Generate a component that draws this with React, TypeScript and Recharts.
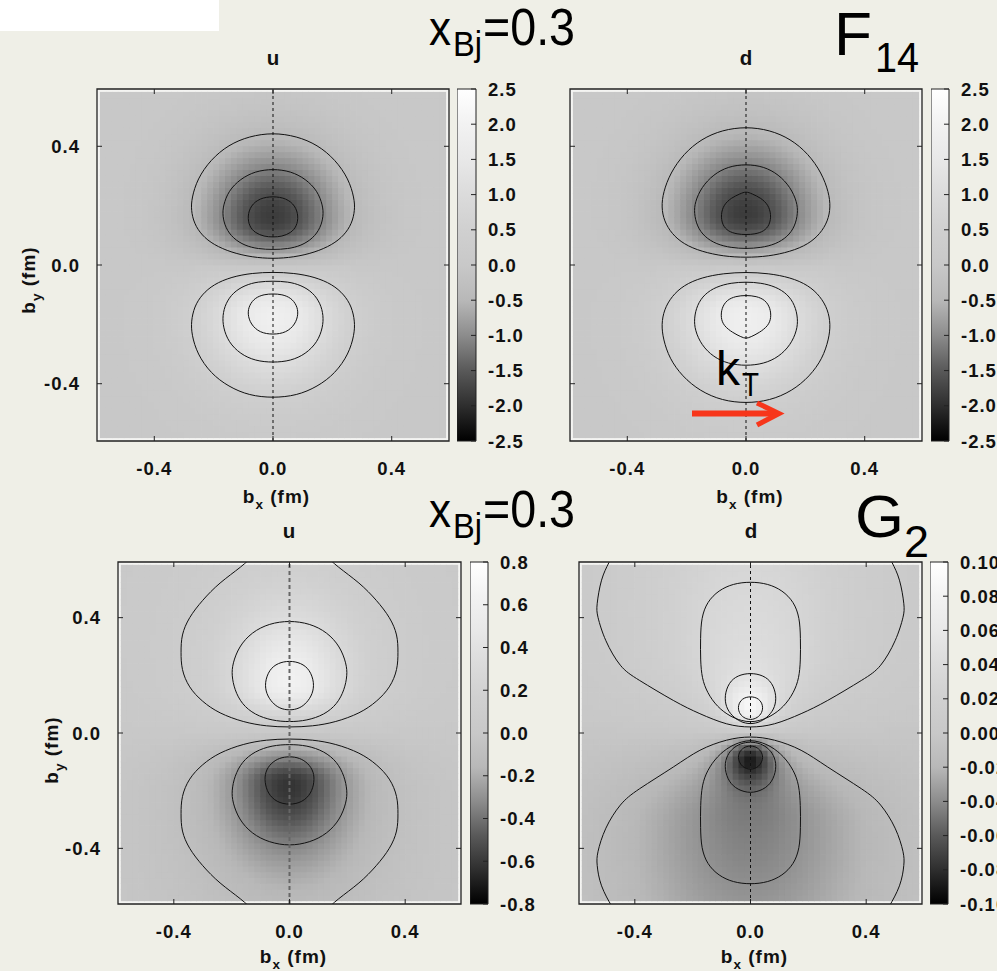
import React from 'react';
import { ComposedChart, XAxis, YAxis, Scatter, Line, ReferenceLine, ReferenceArea } from 'recharts';

const FONT = '"Liberation Sans", Arial, Helvetica, sans-serif';

// ---------- data ----------
const axisTicks = [-0.4, 0, 0.4];
const AX = 0.593; // axis half range (fm)

const cbTicksF14 = [2.5, 2.0, 1.5, 1.0, 0.5, 0.0, -0.5, -1.0, -1.5, -2.0, -2.5];
const cbTicksG2u = [0.8, 0.6, 0.4, 0.2, 0.0, -0.2, -0.4, -0.6, -0.8];
const cbTicksG2d = [0.1, 0.08, 0.06, 0.04, 0.02, 0.0, -0.02, -0.04, -0.06, -0.08, -0.1];

// palette: normalised value -> gray level
const paletteStops = [
  [0, 0], [0.1, 0.18], [0.2, 0.35], [0.3, 0.55], [0.4, 0.72], [0.5, 0.785],
  [0.6, 0.815], [0.7, 0.86], [0.8, 0.91], [0.9, 0.95], [1, 1],
];

// blobs: centre, peak, widths, tail exponent
const blobsF14u = [
  { x: 0, y: 0.16, amp: -1.85, sx: 0.16, sUp: 0.16, sDown: 0.1, k: 20 },
  { x: 0, y: -0.17, amp: 1.85, sx: 0.16, sUp: 0.1, sDown: 0.16, k: 20 },
];
const blobsF14d = [
  { x: 0, y: 0.17, amp: -1.85, sx: 0.165, sUp: 0.165, sDown: 0.1, k: 20 },
  { x: 0, y: -0.175, amp: 1.85, sx: 0.165, sUp: 0.1, sDown: 0.165, k: 20 },
];
const blobsG2u = [
  { x: 0, y: 0.17, amp: 0.65, sx: 0.14, sUp: 0.18, sDown: 0.08, k: 1.5 },
  { x: 0, y: -0.17, amp: -0.65, sx: 0.14, sUp: 0.08, sDown: 0.18, k: 1.5 },
];
const blobsG2d = [
  { x: 0, y: 0.085, amp: 0.085, sx: 0.06, sUp: 0.06, sDown: 0.06, k: 1.5 },
  { x: 0, y: 0.3, amp: 0.04, sx: 0.24, sUp: 0.4, sDown: 0.2, k: 2 },
  { x: 0, y: -0.085, amp: -0.085, sx: 0.06, sUp: 0.06, sDown: 0.06, k: 1.5 },
  { x: 0, y: -0.32, amp: -0.045, sx: 0.3, sUp: 0.2, sDown: 0.4, k: 2 },
];

// contour lines (right half, x >= 0), mirrored about bx = 0
const contoursF14u = [
  { open: false, pts: [[0, 0.446], [0.08, 0.434], [0.15, 0.405], [0.21, 0.355], [0.255, 0.29], [0.274, 0.225], [0.276, 0.185], [0.266, 0.14], [0.24, 0.1], [0.2, 0.068], [0.14, 0.042], [0.07, 0.026], [0, 0.021]] },
  { open: false, pts: [[0, 0.324], [0.06, 0.316], [0.11, 0.29], [0.15, 0.25], [0.168, 0.2], [0.17, 0.165], [0.16, 0.125], [0.135, 0.09], [0.095, 0.065], [0.05, 0.054], [0, 0.052]] },
  { open: false, pts: [[0, 0.232], [0.045, 0.225], [0.075, 0.2], [0.086, 0.165], [0.08, 0.13], [0.06, 0.108], [0.03, 0.096], [0, 0.094]] },
  { open: false, pts: [[0, -0.024], [0.07, -0.027], [0.14, -0.04], [0.2, -0.065], [0.24, -0.1], [0.265, -0.14], [0.276, -0.19], [0.274, -0.235], [0.255, -0.3], [0.21, -0.365], [0.15, -0.41], [0.08, -0.44], [0, -0.448]] },
  { open: false, pts: [[0, -0.054], [0.05, -0.056], [0.095, -0.068], [0.135, -0.093], [0.16, -0.13], [0.17, -0.17], [0.168, -0.21], [0.15, -0.26], [0.11, -0.3], [0.06, -0.323], [0, -0.329]] },
  { open: false, pts: [[0, -0.097], [0.03, -0.099], [0.06, -0.11], [0.08, -0.135], [0.086, -0.165], [0.075, -0.2], [0.045, -0.228], [0, -0.235]] },
];
const contoursF14d = [
  { open: false, pts: [[0, 0.466], [0.08, 0.455], [0.15, 0.425], [0.21, 0.375], [0.255, 0.31], [0.279, 0.245], [0.285, 0.195], [0.276, 0.148], [0.25, 0.105], [0.21, 0.07], [0.15, 0.045], [0.075, 0.029], [0, 0.025]] },
  { open: false, pts: [[0, 0.34], [0.06, 0.332], [0.11, 0.305], [0.15, 0.262], [0.172, 0.212], [0.175, 0.175], [0.165, 0.13], [0.14, 0.095], [0.1, 0.07], [0.05, 0.058], [0, 0.055]] },
  { open: false, pts: [[0, 0.248], [0.02, 0.24], [0.05, 0.226], [0.075, 0.203], [0.085, 0.17], [0.08, 0.135], [0.06, 0.113], [0.03, 0.104], [0, 0.102]] },
  { open: false, pts: [[0, -0.024], [0.075, -0.028], [0.15, -0.042], [0.21, -0.068], [0.25, -0.105], [0.276, -0.15], [0.285, -0.2], [0.279, -0.25], [0.258, -0.315], [0.215, -0.375], [0.155, -0.425], [0.08, -0.457], [0, -0.466]] },
  { open: false, pts: [[0, -0.057], [0.05, -0.06], [0.1, -0.073], [0.14, -0.098], [0.165, -0.135], [0.175, -0.18], [0.172, -0.22], [0.15, -0.27], [0.11, -0.31], [0.06, -0.333], [0, -0.34]] },
  { open: false, pts: [[0, -0.102], [0.035, -0.105], [0.065, -0.118], [0.082, -0.145], [0.085, -0.178], [0.075, -0.205], [0.045, -0.228], [0.015, -0.243], [0, -0.248]] },
];
const contoursG2u = [
  { open: true, pts: [[0, 0.021], [0.08, 0.025], [0.16, 0.04], [0.24, 0.07], [0.3, 0.11], [0.345, 0.16], [0.37, 0.22], [0.375, 0.28], [0.37, 0.34], [0.345, 0.4], [0.3, 0.46], [0.24, 0.52], [0.17, 0.575], [0.12, 0.62]] },
  { open: false, pts: [[0, 0.39], [0.07, 0.38], [0.13, 0.35], [0.175, 0.3], [0.197, 0.24], [0.2, 0.2], [0.19, 0.15], [0.165, 0.1], [0.12, 0.063], [0.06, 0.043], [0, 0.038]] },
  { open: false, pts: [[0, 0.251], [0.04, 0.243], [0.07, 0.22], [0.086, 0.175], [0.08, 0.135], [0.06, 0.105], [0.035, 0.085], [0, 0.078]] },
  { open: true, pts: [[0, -0.021], [0.08, -0.025], [0.16, -0.04], [0.24, -0.07], [0.3, -0.11], [0.345, -0.16], [0.37, -0.22], [0.375, -0.28], [0.37, -0.34], [0.345, -0.4], [0.3, -0.46], [0.24, -0.52], [0.17, -0.575], [0.12, -0.62]] },
  { open: false, pts: [[0, -0.039], [0.06, -0.043], [0.12, -0.063], [0.165, -0.1], [0.19, -0.15], [0.2, -0.2], [0.197, -0.24], [0.175, -0.3], [0.13, -0.35], [0.07, -0.38], [0, -0.392]] },
  { open: false, pts: [[0, -0.081], [0.035, -0.086], [0.065, -0.105], [0.084, -0.135], [0.086, -0.17], [0.075, -0.21], [0.045, -0.24], [0, -0.25]] },
];
const contoursG2d = [
  { open: true, pts: [[0, 0.021], [0.083, 0.032], [0.175, 0.067], [0.267, 0.113], [0.383, 0.182], [0.45, 0.235], [0.5, 0.32], [0.527, 0.4], [0.53, 0.45], [0.515, 0.53], [0.49, 0.59], [0.47, 0.63]] },
  { open: false, pts: [[0, 0.525], [0.06, 0.518], [0.11, 0.495], [0.15, 0.455], [0.17, 0.4], [0.173, 0.33], [0.173, 0.25], [0.168, 0.19], [0.15, 0.14], [0.115, 0.09], [0.07, 0.057], [0.03, 0.042], [0, 0.038]] },
  { open: false, pts: [[0, 0.209], [0.045, 0.2], [0.075, 0.175], [0.09, 0.13], [0.085, 0.09], [0.065, 0.06], [0.035, 0.038], [0, 0.03]] },
  { open: false, pts: [[0, 0.128], [0.03, 0.12], [0.044, 0.095], [0.04, 0.07], [0.025, 0.053], [0, 0.044]] },
  { open: true, pts: [[0, -0.014], [0.083, -0.025], [0.175, -0.06], [0.267, -0.118], [0.383, -0.193], [0.45, -0.25], [0.5, -0.33], [0.527, -0.41], [0.53, -0.46], [0.515, -0.53], [0.48, -0.6], [0.46, -0.63]] },
  { open: false, pts: [[0, -0.025], [0.03, -0.03], [0.07, -0.045], [0.115, -0.08], [0.15, -0.13], [0.168, -0.18], [0.173, -0.25], [0.173, -0.33], [0.17, -0.4], [0.15, -0.455], [0.11, -0.495], [0.06, -0.518], [0, -0.525]] },
  { open: false, pts: [[0, -0.03], [0.035, -0.036], [0.065, -0.055], [0.085, -0.085], [0.09, -0.125], [0.075, -0.17], [0.045, -0.197], [0, -0.21]] },
  { open: false, pts: [[0, -0.043], [0.025, -0.05], [0.04, -0.068], [0.044, -0.09], [0.03, -0.118], [0, -0.129]] },
];

// ---------- layout ----------
const panels = [
  { id: 'tl', L: 97, T: 89, W: 352, H: 352, blobs: blobsF14u, contours: contoursF14u, range: [-2.5, 2.5], cbTicks: cbTicksF14, cbL: 457, cbW: 19, dec: 1, showY: true, dash: { stroke: '#111', w: 1, arr: '3 3' } },
  { id: 'tr', L: 570, T: 89, W: 352, H: 352, blobs: blobsF14d, contours: contoursF14d, range: [-2.5, 2.5], cbTicks: cbTicksF14, cbL: 931, cbW: 18, dec: 1, showY: false, dash: { stroke: '#111', w: 1, arr: '3 3' } },
  { id: 'bl', L: 118, T: 562, W: 343, H: 342, blobs: blobsG2u, contours: contoursG2u, range: [-0.8, 0.8], cbTicks: cbTicksG2u, cbL: 470, cbW: 18, dec: 1, showY: true, dash: { stroke: '#666', w: 2, arr: '4 3' } },
  { id: 'br', L: 579, T: 562, W: 343, H: 342, blobs: blobsG2d, contours: contoursG2d, range: [-0.1, 0.1], cbTicks: cbTicksG2d, cbL: 930, cbW: 18, dec: 2, showY: false, dash: { stroke: '#111', w: 1, arr: '3 3' } },
];

const HE = 0.582;
const NCELL = 58;
const STEP = (2 * HE) / NCELL;

function paletteGray(v: number) {
  const t = Math.max(0, Math.min(1, v));
  for (let i = 1; i < paletteStops.length; i++) {
    const [a, ga] = paletteStops[i - 1];
    const [b, gb] = paletteStops[i];
    if (t <= b) return ga + ((t - a) / (b - a)) * (gb - ga);
  }
  return 1;
}
function grayHex(g: number) {
  const c = Math.round(g * 255);
  return `rgb(${c},${c},${c})`;
}
function fieldAt(blobs: any[], x: number, y: number) {
  let s = 0;
  for (const b of blobs) {
    const dx = (x - b.x) / b.sx;
    const dy = (y - b.y) / (y >= b.y ? b.sUp : b.sDown);
    const q = dx * dx + dy * dy;
    s += b.amp * Math.pow(1 + q / (2 * b.k), -b.k);
  }
  return s;
}
function buildCells(blobs: any[], range: number[]) {
  const out: any[] = [];
  for (let i = 0; i < NCELL; i++) {
    for (let j = 0; j < NCELL; j++) {
      const x = -HE + (i + 0.5) * STEP;
      const y = -HE + (j + 0.5) * STEP;
      const v = fieldAt(blobs, x, y);
      const t = (v - range[0]) / (range[1] - range[0]);
      out.push({ x, y, c: grayHex(paletteGray(t)) });
    }
  }
  return out;
}
function closeSym(r: number[][]) {
  const left = r.slice(1, -1).reverse().map(([x, y]) => [-x, y]);
  return [...r, ...left].map(([x, y]) => ({ x, y }));
}
function openSym(r: number[][]) {
  const left = r.slice(1).reverse().map(([x, y]) => [-x, y]);
  return [...left, ...r].map(([x, y]) => ({ x, y }));
}

const boldText: any = { fontFamily: FONT, fontWeight: 700, fontSize: 18.5, fill: '#111', letterSpacing: 1 };

const makeXTick = (plotH: number) => (props: any) => {
  const { x, y, payload } = props;
  return (
    <g>
      <line x1={x} x2={x} y1={y} y2={y - 5} stroke="#222" strokeWidth={1} />
      <line x1={x} x2={x} y1={y - plotH} y2={y - plotH + 5} stroke="#222" strokeWidth={1} />
      <text x={x} y={y + 34} textAnchor="middle" style={boldText}>{Number(payload.value).toFixed(1)}</text>
    </g>
  );
};
const makeYTick = (plotW: number, show: boolean) => (props: any) => {
  const { x, y, payload } = props;
  return (
    <g>
      <line x1={x} x2={x + 5} y1={y} y2={y} stroke="#222" strokeWidth={1} />
      <line x1={x + plotW} x2={x + plotW - 5} y1={y} y2={y} stroke="#222" strokeWidth={1} />
      {show ? (
        <text x={x - 17} y={y + 6.5} textAnchor="end" style={boldText}>{Number(payload.value).toFixed(1)}</text>
      ) : null}
    </g>
  );
};
const makeCbTick = (dec: number) => (props: any) => {
  const { x, y, payload } = props;
  return (
    <g>
      <line x1={x} x2={x - 5} y1={y} y2={y} stroke="#222" strokeWidth={1} />
      <text x={x + 12} y={y + 6.5} textAnchor="start" style={boldText}>{Number(payload.value).toFixed(dec)}</text>
    </g>
  );
};

function Panel({ p }: any) {
  const mL = 90, mT = 10, mR = 10, mB = 50;
  const cells = React.useMemo(() => buildCells(p.blobs, p.range), [p]);
  const cw = (p.W / (2 * AX)) * STEP + 0.7;
  const chh = (p.H / (2 * AX)) * STEP + 0.7;
  return (
    <div style={{ position: 'absolute', left: p.L - mL, top: p.T - mT }}>
      <ComposedChart width={p.W + mL + mR} height={p.H + mT + mB} margin={{ top: mT, right: mR, bottom: 0, left: 0 }}>
        <XAxis type="number" dataKey="x" domain={[-AX, AX]} ticks={axisTicks} interval={0} allowDataOverflow height={mB}
          axisLine={false} tickLine={false} tickSize={0} tickMargin={0} tick={makeXTick(p.H)} />
        <YAxis type="number" dataKey="y" domain={[-AX, AX]} ticks={axisTicks} interval={0} allowDataOverflow width={mL}
          axisLine={false} tickLine={false} tickSize={0} tickMargin={0} tick={makeYTick(p.W, p.showY)} />
        <ReferenceArea x1={-AX} x2={AX} y1={-AX} y2={AX} fill="#f4f4f2" fillOpacity={1} stroke="none" ifOverflow="visible" zIndex={-300} />
        <Scatter data={cells} isAnimationActive={false} zIndex={-200}
          shape={(s: any) => <rect x={s.cx - cw / 2} y={s.cy - chh / 2} width={cw} height={chh} fill={s.payload.c} />} />
        {p.contours.map((c: any, i: number) => (
          <Line key={i} data={c.open ? openSym(c.pts) : closeSym(c.pts)} dataKey="y" type={c.open ? 'natural' : 'basisClosed'}
            stroke="#111" strokeWidth={1} dot={false} activeDot={false} isAnimationActive={false} legendType="none" zIndex={450} />
        ))}
        <ReferenceLine x={0} stroke={p.dash.stroke} strokeWidth={p.dash.w} strokeDasharray={p.dash.arr} zIndex={460} />
        <ReferenceArea x1={-AX} x2={AX} y1={-AX} y2={AX} fill="none" stroke="#222" strokeWidth={1.3} ifOverflow="visible" zIndex={470} />
      </ComposedChart>
    </div>
  );
}

function ColorBar({ p }: any) {
  const mT = 10, mB = 50, axW = 60;
  const [mn, mx] = p.range;
  const gid = 'grad-' + p.id;
  const marks = p.cbTicks.map((v: number) => ({ x: 0.5, y: v }));
  return (
    <div style={{ position: 'absolute', left: p.cbL, top: p.T - mT }}>
      <ComposedChart width={p.cbW + axW} height={p.H + mT + mB} margin={{ top: mT, right: 0, bottom: mB, left: 0 }}>
        <defs>
          <linearGradient id={gid} x1="0" y1="1" x2="0" y2="0">
            {paletteStops.map(([o, g], i) => (
              <stop key={i} offset={o} stopColor={grayHex(g)} />
            ))}
          </linearGradient>
        </defs>
        <XAxis type="number" dataKey="x" domain={[0, 1]} hide />
        <YAxis orientation="right" type="number" dataKey="y" domain={[mn, mx]} ticks={p.cbTicks} interval={0} allowDataOverflow width={axW}
          axisLine={false} tickLine={false} tickSize={0} tickMargin={0} tick={makeCbTick(p.dec)} />
        <ReferenceArea x1={0} x2={1} y1={mn} y2={mx} fill={`url(#${gid})`} fillOpacity={1} stroke="#222" strokeWidth={1} ifOverflow="visible" />
        <Scatter data={marks} isAnimationActive={false} shape={() => <g />} />
      </ComposedChart>
    </div>
  );
}

const bigText: any = { fontFamily: FONT, fontWeight: 400, fill: '#000' };

function Overlay() {
  const sub = (label: string, s: string, x: number, y: number) => (
    <text x={x} y={y} textAnchor="middle" style={{ ...boldText, fontSize: 19 }}>
      {label}
      <tspan dy={6} style={{ fontSize: 13.5 }}>{s}</tspan>
      <tspan dy={-6}> (fm)</tspan>
    </text>
  );
  const title = { ...boldText, fontSize: 20.5, letterSpacing: 0 };
  return (
    <svg width={997} height={971} style={{ position: 'absolute', left: 0, top: 0, pointerEvents: 'none' }}>
      <rect x={0} y={0} width={219} height={31} fill="#ffffff" />
      {/* panel titles */}
      <text x={273} y={65} textAnchor="middle" style={title}>u</text>
      <text x={746} y={65} textAnchor="middle" style={title}>d</text>
      <text x={289} y={538} textAnchor="middle" style={title}>u</text>
      <text x={751} y={538} textAnchor="middle" style={title}>d</text>
      {/* axis titles */}
      {sub('b', 'x', 276.5, 503)}
      {sub('b', 'x', 750, 503)}
      {sub('b', 'x', 293.5, 963)}
      {sub('b', 'x', 754.5, 963)}
      <g transform="translate(35,280) rotate(-90)">{sub('b', 'y', 0, 0)}</g>
      <g transform="translate(58,750) rotate(-90)">{sub('b', 'y', 0, 0)}</g>
      {/* x_Bj = 0.3 */}
      {[45, 527].map((by, i) => (
        <g key={i}>
          <text x={429} y={by} style={{ ...bigText, fontSize: 48 }} textLength={22} lengthAdjust="spacingAndGlyphs">x</text>
          <text x={453} y={by + 11} style={{ ...bigText, fontSize: 35 }} textLength={29} lengthAdjust="spacingAndGlyphs">Bj</text>
          <text x={483} y={by} style={{ ...bigText, fontSize: 51 }} textLength={92} lengthAdjust="spacingAndGlyphs">=0.3</text>
        </g>
      ))}
      {/* F14 and G2 */}
      <text x={834} y={55} style={{ ...bigText, fontSize: 62 }} textLength={38} lengthAdjust="spacingAndGlyphs">F</text>
      <text x={875} y={72} style={{ ...bigText, fontSize: 42 }} textLength={44} lengthAdjust="spacingAndGlyphs">14</text>
      <text x={855} y={537} style={{ ...bigText, fontSize: 60 }} textLength={49} lengthAdjust="spacingAndGlyphs">G</text>
      <text x={904} y={557} style={{ ...bigText, fontSize: 44 }} textLength={25} lengthAdjust="spacingAndGlyphs">2</text>
      {/* k_T arrow */}
      <text x={716} y={385} style={{ ...bigText, fontSize: 48 }} textLength={24} lengthAdjust="spacingAndGlyphs">k</text>
      <text x={742} y={396} style={{ ...bigText, fontSize: 33 }} textLength={17} lengthAdjust="spacingAndGlyphs">T</text>
      <line x1={692} y1={413.5} x2={776} y2={413.5} stroke="#f7361b" strokeWidth={6} />
      <polyline points="757,403 779,413.5 757,425" fill="none" stroke="#f7361b" strokeWidth={5} strokeLinejoin="miter" />
    </svg>
  );
}

export default function App() {
  return (
    <div style={{ position: 'absolute', left: 0, top: 0, width: 997, height: 971, background: '#efefe7', overflow: 'hidden' }}>
      {panels.map((p) => (
        <React.Fragment key={p.id}>
          <Panel p={p} />
          <ColorBar p={p} />
        </React.Fragment>
      ))}
      <Overlay />
    </div>
  );
}
